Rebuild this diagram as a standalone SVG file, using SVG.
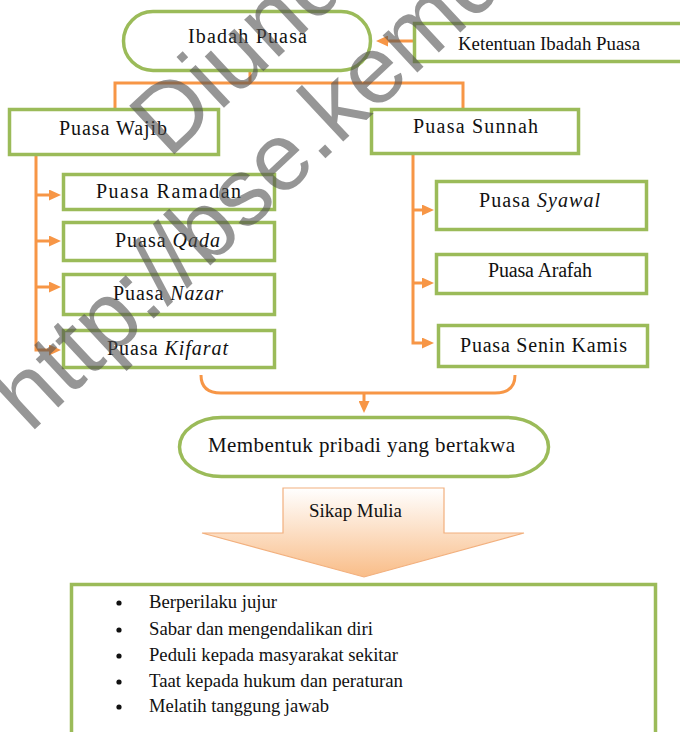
<svg xmlns="http://www.w3.org/2000/svg" width="680" height="732" viewBox="0 0 680 732">
<defs>
<style>
.box{fill:#ffffff;stroke:#9bbb59;stroke-width:3.5}
.con{fill:none;stroke:#f79646;stroke-width:3}
.t{font-family:"Liberation Serif","DejaVu Serif","Times New Roman",serif;font-size:19px;fill:#111111}
.n{font-size:20px}
.it{font-style:italic}
.wm{font-family:"Liberation Sans",Arial,sans-serif;font-size:96px;fill:#505050;fill-opacity:0.6}
</style>
<marker id="ah" markerWidth="12" markerHeight="11" refX="6" refY="5.5" orient="auto" markerUnits="userSpaceOnUse">
<path d="M0,0 L12,5.5 L0,11 z" fill="#f79646"/>
</marker>
<linearGradient id="ag" x1="0" y1="0" x2="0" y2="1">
<stop offset="0" stop-color="#ffffff"/>
<stop offset="1" stop-color="#f9bd88"/>
</linearGradient>
</defs>
<rect width="680" height="732" fill="#ffffff"/>

<g id="connectors">
<path class="con" d="M413,41 H382" marker-end="url(#ah)"/>
<path class="con" d="M250,72 V83 M115,108 V83 H463 V108"/>
<path class="con" d="M36,156 V350 H55" marker-end="url(#ah)"/>
<path class="con" d="M36,195 H55" marker-end="url(#ah)"/>
<path class="con" d="M36,241 H55" marker-end="url(#ah)"/>
<path class="con" d="M36,287 H55" marker-end="url(#ah)"/>
<path class="con" d="M413,155 V343 H428" marker-end="url(#ah)"/>
<path class="con" d="M413,210 H428" marker-end="url(#ah)"/>
<path class="con" d="M413,283 H428" marker-end="url(#ah)"/>
<path class="con" d="M201,375 Q201,393 221,393 H495 Q515,393 515,375"/>
<path class="con" d="M364,393 V407" marker-end="url(#ah)"/>
</g>

<g id="ibadah-puasa">
<rect class="box" x="123.5" y="11.5" width="247" height="59" rx="29.5"/>
<text class="t n" x="188" y="43" textLength="119" lengthAdjust="spacing">Ibadah Puasa</text>
</g>
<g id="ketentuan">
<rect class="box" x="414.5" y="23.5" width="290" height="38"/>
<text class="t" x="458" y="50" textLength="182" lengthAdjust="spacingAndGlyphs">Ketentuan Ibadah Puasa</text>
</g>
<g id="puasa-wajib">
<rect class="box" x="9.5" y="109.5" width="209" height="45"/>
<text class="t n" x="59" y="135" textLength="108" lengthAdjust="spacing">Puasa Wajib</text>
</g>
<g id="puasa-sunnah">
<rect class="box" x="371.5" y="109.5" width="207" height="44"/>
<text class="t n" x="413" y="133" textLength="125" lengthAdjust="spacing">Puasa Sunnah</text>
</g>
<g id="puasa-ramadan">
<rect class="box" x="63.5" y="174.5" width="211" height="35"/>
<text class="t n" x="96" y="198" textLength="145" lengthAdjust="spacing">Puasa Ramadan</text>
</g>
<g id="puasa-qada">
<rect class="box" x="63.5" y="222.5" width="211" height="38"/>
<text class="t n" x="115" y="247" textLength="105" lengthAdjust="spacing">Puasa <tspan class="it">Qada</tspan></text>
</g>
<g id="puasa-nazar">
<rect class="box" x="63.5" y="274.5" width="211" height="40"/>
<text class="t n" x="113" y="300" textLength="110" lengthAdjust="spacing">Puasa <tspan class="it">Nazar</tspan></text>
</g>
<g id="puasa-kifarat">
<rect class="box" x="63.5" y="330.5" width="211" height="37"/>
<text class="t n" x="107" y="355" textLength="121" lengthAdjust="spacing">Puasa <tspan class="it">Kifarat</tspan></text>
</g>
<g id="puasa-syawal">
<rect class="box" x="436.5" y="181.5" width="210" height="48"/>
<text class="t n" x="479" y="207" textLength="121" lengthAdjust="spacing">Puasa <tspan class="it">Syawal</tspan></text>
</g>
<g id="puasa-arafah">
<rect class="box" x="436.5" y="254.5" width="210" height="39"/>
<text class="t n" x="488" y="277" textLength="104" lengthAdjust="spacing">Puasa Arafah</text>
</g>
<g id="puasa-senin-kamis">
<rect class="box" x="438.5" y="325.5" width="209" height="41"/>
<text class="t n" x="460" y="352" textLength="167" lengthAdjust="spacing">Puasa Senin Kamis</text>
</g>
<g id="membentuk">
<rect class="box" x="179.5" y="417.5" width="369" height="59" rx="42" ry="29.5"/>
<text class="t" x="208" y="452" style="font-size:21px" textLength="307" lengthAdjust="spacing">Membentuk pribadi yang bertakwa</text>
</g>
<g id="sikap-mulia">
<polygon points="283,488 444,488 444,533 524,533 364,577 202,533 283,533" fill="url(#ag)" stroke="#f2b07e" stroke-width="1.2"/>
<text class="t" x="309" y="517" textLength="93" lengthAdjust="spacingAndGlyphs">Sikap Mulia</text>
</g>
<g id="sikap-list">
<rect class="box" x="71.5" y="584.5" width="584" height="200"/>
<circle cx="119" cy="603" r="2.6" fill="#111111"/>
<circle cx="119" cy="630" r="2.6" fill="#111111"/>
<circle cx="119" cy="656" r="2.6" fill="#111111"/>
<circle cx="119" cy="682" r="2.6" fill="#111111"/>
<circle cx="119" cy="707" r="2.6" fill="#111111"/>
<text class="t" x="149" y="608" textLength="128" lengthAdjust="spacingAndGlyphs">Berperilaku jujur</text>
<text class="t" x="149" y="635" textLength="224" lengthAdjust="spacingAndGlyphs">Sabar dan mengendalikan  diri</text>
<text class="t" x="149" y="661" textLength="249" lengthAdjust="spacingAndGlyphs">Peduli kepada masyarakat sekitar</text>
<text class="t" x="149" y="687" textLength="254" lengthAdjust="spacingAndGlyphs">Taat kepada hukum dan peraturan</text>
<text class="t" x="149" y="712" textLength="180" lengthAdjust="spacingAndGlyphs">Melatih tanggung jawab</text>
</g>

<g id="watermark" transform="translate(34,430) rotate(-43)">
<text class="wm" x="555" y="-106" text-anchor="middle">Diunduh dari</text>
<text class="wm" x="555" y="0" text-anchor="middle">http://bse.kemdikbud.go.id</text>
</g>
</svg>
